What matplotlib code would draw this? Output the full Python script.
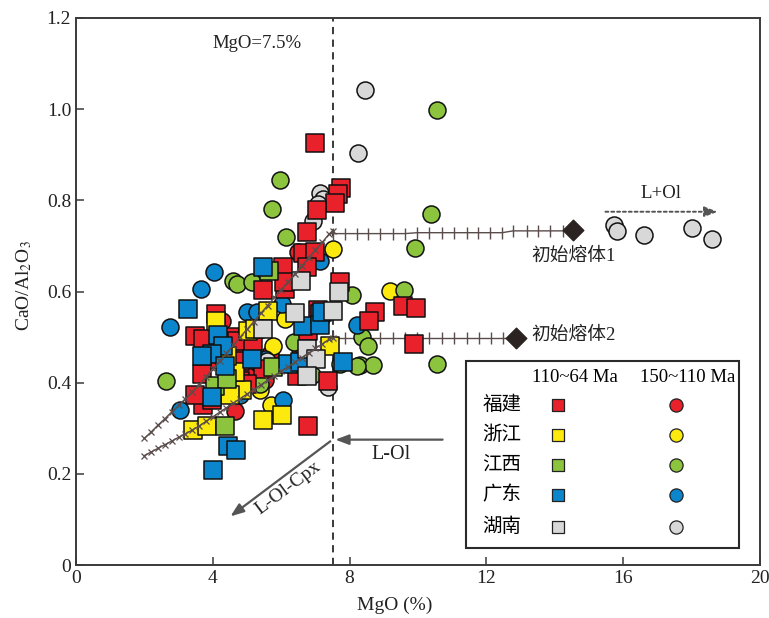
import matplotlib
matplotlib.use("Agg")
import matplotlib.pyplot as plt
from matplotlib.patches import Rectangle

plt.rcParams['font.family'] = ['Liberation Serif', 'Noto Sans CJK SC']
plt.rcParams['mathtext.fontset'] = 'stix'

# ---------------- data (MgO %, CaO/Al2O3) ----------------
# 110~64 Ma (squares)
fj_sq_x = [6.99, 7.75, 7.66, 7.57, 7.05, 6.75, 6.64, 6.99, 6.75, 6.05, 5.47, 6.11, 6.08, 7.72,
           9.56, 9.94, 8.74, 8.57, 9.88, 4.09, 3.48, 3.71, 4.50, 4.74, 7.08, 4.71, 5.18, 6.78,
           3.68, 3.71, 3.98, 4.80, 5.47, 6.46, 7.37, 6.78, 4.80, 5.00, 4.21, 3.48]
fj_sq_y = [0.925, 0.826, 0.813, 0.795, 0.778, 0.731, 0.685, 0.687, 0.654, 0.654, 0.604, 0.606, 0.621, 0.621,
           0.568, 0.564, 0.555, 0.535, 0.485, 0.551, 0.502, 0.496, 0.500, 0.480, 0.559, 0.491, 0.485, 0.513,
           0.419, 0.352, 0.363, 0.447, 0.430, 0.414, 0.403, 0.304, 0.403, 0.396, 0.452, 0.374]
zj_sq_x = [3.42, 3.83, 5.47, 6.02, 4.09, 5.61, 5.03, 7.43, 4.85, 4.65, 4.42, 4.50, 5.23]
zj_sq_y = [0.297, 0.304, 0.319, 0.330, 0.535, 0.557, 0.513, 0.480, 0.385, 0.423, 0.458, 0.374, 0.518]
jx_sq_x = [5.64, 4.36, 4.06, 4.42, 5.76]
jx_sq_y = [0.645, 0.304, 0.392, 0.407, 0.434]
gd_sq_x = [3.27, 4.00, 4.44, 4.68, 5.47, 4.15, 4.30, 3.98, 3.68, 4.36, 3.98, 5.15, 6.20, 6.55,
           6.64, 7.13, 7.13, 7.81, 7.19]
gd_sq_y = [0.562, 0.209, 0.260, 0.253, 0.654, 0.504, 0.480, 0.463, 0.458, 0.436, 0.368, 0.452, 0.441, 0.445,
           0.524, 0.551, 0.526, 0.445, 0.555]
hn_sq_x = [6.58, 6.40, 7.51, 5.47, 6.75, 7.02, 6.75, 7.69]
hn_sq_y = [0.623, 0.553, 0.557, 0.518, 0.474, 0.452, 0.414, 0.599]

# 150~110 Ma (circles)
fj_ci_x = [4.65, 5.67, 5.00, 5.38, 5.58, 6.55, 4.27, 6.49, 5.53]
fj_ci_y = [0.337, 0.463, 0.414, 0.441, 0.423, 0.474, 0.535, 0.687, 0.406]
zj_ci_x = [9.18, 7.51, 5.70, 5.38, 4.36, 6.55, 4.80, 5.75, 6.11]
zj_ci_y = [0.601, 0.694, 0.352, 0.385, 0.385, 0.485, 0.485, 0.480, 0.540]
jx_ci_x = [10.56, 5.96, 5.73, 6.14, 10.38, 9.91, 8.07, 9.59, 8.36, 8.54, 8.30, 8.68, 10.56, 2.63,
           4.59, 4.71, 5.15, 5.38, 7.72, 6.90, 6.37, 8.22]
jx_ci_y = [0.998, 0.844, 0.782, 0.720, 0.771, 0.696, 0.593, 0.604, 0.500, 0.480, 0.438, 0.438, 0.441, 0.403,
           0.623, 0.617, 0.621, 0.396, 0.441, 0.416, 0.489, 0.436]
gd_ci_x = [4.04, 3.65, 2.75, 3.04, 6.05, 6.02, 5.00, 5.29, 7.13, 8.22, 4.80, 5.53]
gd_ci_y = [0.643, 0.606, 0.522, 0.341, 0.363, 0.573, 0.555, 0.555, 0.667, 0.526, 0.374, 0.452]
hn_ci_x = [8.45, 8.25, 7.13, 7.22, 7.08, 6.93, 15.73, 15.82, 16.61, 18.01, 18.60, 7.37, 5.58]
hn_ci_y = [1.042, 0.903, 0.817, 0.802, 0.791, 0.755, 0.745, 0.733, 0.725, 0.740, 0.716, 0.390, 0.447]

# olivine addition paths (horizontal) and primary melts
path1_x = [7.51, 7.87, 8.22, 8.54, 8.89, 9.27, 9.62, 9.97, 10.32, 10.70, 11.05, 11.43, 11.75, 12.11,
           12.46, 12.78, 13.19, 13.51, 13.86, 14.24, 14.53]
path1_y = [0.727, 0.727, 0.727, 0.727, 0.727, 0.727, 0.727, 0.729, 0.729, 0.729, 0.729, 0.729, 0.729, 0.729,
           0.729, 0.733, 0.733, 0.733, 0.733, 0.733, 0.734]
path2_x = [7.51, 7.87, 8.22, 8.54, 8.89, 9.27, 9.62, 9.97, 10.32, 10.70, 11.05, 11.43, 11.78, 12.13,
           12.49, 12.87]
path2_y = [0.498] * 16
melt_x = [14.53, 12.87]
melt_y = [0.734, 0.498]

# fractional crystallization paths (L-Ol-Cpx)
frac1_x = [2.0, 2.2, 2.4, 2.6, 2.8, 3.0, 3.2, 3.4, 3.6, 3.8, 4.0, 4.2, 4.4, 4.6, 4.8, 5.0,
           5.2, 5.4, 5.6, 5.8, 6.0, 6.2, 6.4, 6.6, 6.8, 7.0, 7.2, 7.4, 7.5]
frac1_y = [0.278, 0.292, 0.307, 0.321, 0.336, 0.350, 0.365, 0.380, 0.395, 0.413, 0.430, 0.447, 0.465,
           0.482, 0.500, 0.517, 0.534, 0.552, 0.569, 0.587, 0.604, 0.621, 0.639, 0.656, 0.674, 0.691,
           0.708, 0.726, 0.733]
frac2_x = [2.0, 2.2, 2.4, 2.6, 2.8, 3.0, 3.2, 3.4, 3.6, 3.8, 4.0, 4.2, 4.4, 4.6, 4.8, 5.0,
           5.2, 5.4, 5.6, 5.8, 6.0, 6.2, 6.4, 6.6, 6.8, 7.0, 7.2, 7.4, 7.5]
frac2_y = [0.240, 0.248, 0.256, 0.264, 0.272, 0.280, 0.288, 0.296, 0.305, 0.315, 0.325, 0.335, 0.345,
           0.355, 0.365, 0.375, 0.385, 0.395, 0.405, 0.415, 0.425, 0.435, 0.445, 0.455, 0.465, 0.475,
           0.485, 0.495, 0.498]

provinces = ['福建', '浙江', '江西', '广东', '湖南']
colors = ['#e8212b', '#fcea0f', '#8cc43e', '#0b86cc', '#d9d8d8']
headers = ['110~64 Ma', '150~110 Ma']

# ---------------- figure ----------------
fig = plt.figure(figsize=(7.69, 6.18), dpi=100)
ax = fig.add_axes([76/769, 53/618, 684/769, 547/618])
ax.set_xlim(0, 20)
ax.set_ylim(0, 1.2)

ink = '#3a3a3a'
txt = '#222222'
path_c = '#5b4d4b'

# horizontal paths (behind points)
ax.plot(path1_x, path1_y, color=path_c, lw=1.0, marker='|', ms=8, mew=1.0, zorder=2)
ax.plot(path2_x, path2_y, color=path_c, lw=1.0, marker='|', ms=8, mew=1.0, zorder=2)
ax.scatter(melt_x, melt_y, marker='D', s=110, color='#2b2322', zorder=5)

circ = [(fj_ci_x, fj_ci_y), (zj_ci_x, zj_ci_y), (jx_ci_x, jx_ci_y), (gd_ci_x, gd_ci_y), (hn_ci_x, hn_ci_y)]
sq = [(fj_sq_x, fj_sq_y), (zj_sq_x, zj_sq_y), (jx_sq_x, jx_sq_y), (gd_sq_x, gd_sq_y), (hn_sq_x, hn_sq_y)]
for (xs, ys), c in zip(circ, colors):
    ax.scatter(xs, ys, marker='o', s=150, c=c, edgecolors='#111111', linewidths=1.1, zorder=3)
for (xs, ys), c in zip(sq, colors):
    ax.scatter(xs, ys, marker='s', s=150, c=c, edgecolors='#111111', linewidths=1.1, zorder=3)

# oblique paths (on top)
ax.plot(frac1_x, frac1_y, color=path_c, lw=1.0, marker='x', ms=5, mew=0.9, zorder=4)
ax.plot(frac2_x, frac2_y, color=path_c, lw=1.0, marker='x', ms=5, mew=0.9, zorder=4)

# vertical MgO = 7.5 line
ax.axvline(7.5, color='#2a2a2a', lw=1.3, ls=(0, (4, 3)), zorder=1)
ax.text(5.3, 1.143, 'MgO=7.5%', fontsize=13.5, ha='center', va='center', color=txt)

# arrows
arrow_kw = dict(arrowstyle='-|>,head_length=0.8,head_width=0.3', color='#555555', lw=1.6)
ax.annotate('', xy=(7.5, 0.275), xytext=(10.8, 0.275), arrowprops=arrow_kw, zorder=6)
ax.annotate('', xy=(4.45, 0.103), xytext=(7.5, 0.275), arrowprops=arrow_kw, zorder=6)
ax.annotate('', xy=(18.85, 0.775), xytext=(15.4, 0.775),
            arrowprops=dict(arrowstyle='-|>,head_length=0.8,head_width=0.3', color='#555555', lw=1.4,
                            ls=(0, (1.5, 1.5))), zorder=6)
ax.text(9.2, 0.243, 'L-Ol', fontsize=14.5, ha='center', va='center', color=txt)
ax.text(6.2, 0.168, 'L-Ol-Cpx', fontsize=14, ha='center', va='center', rotation=37, color=txt)
ax.text(17.1, 0.815, 'L+Ol', fontsize=13.5, ha='center', va='center', color=txt)
ax.text(14.55, 0.678, '初始熔体1', fontsize=13.5, ha='center', va='center', color=txt)
ax.text(13.3, 0.504, '初始熔体2', fontsize=13.5, ha='left', va='center', color=txt)

# custom legend
box = Rectangle((0.570, 0.031), 0.399, 0.342, transform=ax.transAxes, facecolor='white',
                edgecolor='#2a2a2a', lw=1.5, zorder=8)
ax.add_patch(box)
ax.text(0.729, 0.342, headers[0], transform=ax.transAxes, fontsize=13.5, ha='center', va='center', zorder=9)
ax.text(0.895, 0.342, headers[1], transform=ax.transAxes, fontsize=13.5, ha='center', va='center', zorder=9)
row_y = [0.2925, 0.2377, 0.1828, 0.128, 0.0695]
for name, c, yy in zip(provinces, colors, row_y):
    ax.text(0.623, yy, name, transform=ax.transAxes, fontsize=14, ha='center', va='center', zorder=9)
    ax.scatter([0.705], [yy], transform=ax.transAxes, marker='s', s=65, c=c,
               edgecolors='#222222', linewidths=0.9, zorder=9, clip_on=False)
    ax.scatter([0.877], [yy], transform=ax.transAxes, marker='o', s=90, c=c,
               edgecolors='#222222', linewidths=0.9, zorder=9, clip_on=False)

# axes styling
ax.set_xticks([0, 4, 8, 12, 16, 20])
ax.set_yticks([0, 0.2, 0.4, 0.6, 0.8, 1.0, 1.2])
ax.set_yticklabels(['0', '0.2', '0.4', '0.6', '0.8', '1.0', '1.2'])
ax.tick_params(direction='in', length=6, width=1.1, colors=ink, labelcolor=txt, labelsize=14)
for s in ax.spines.values():
    s.set_color(ink)
    s.set_linewidth(1.4)
ax.set_xlabel('MgO (%)', fontsize=14, color=txt, labelpad=8)
ax.xaxis.set_label_coords(0.466, -0.058)
ax.set_ylabel(r'CaO/Al$_2$O$_3$', fontsize=14, color=txt, labelpad=10)
ax.yaxis.set_label_coords(-0.062, 0.51)

fig.savefig('out.png', dpi=100, facecolor='white')
